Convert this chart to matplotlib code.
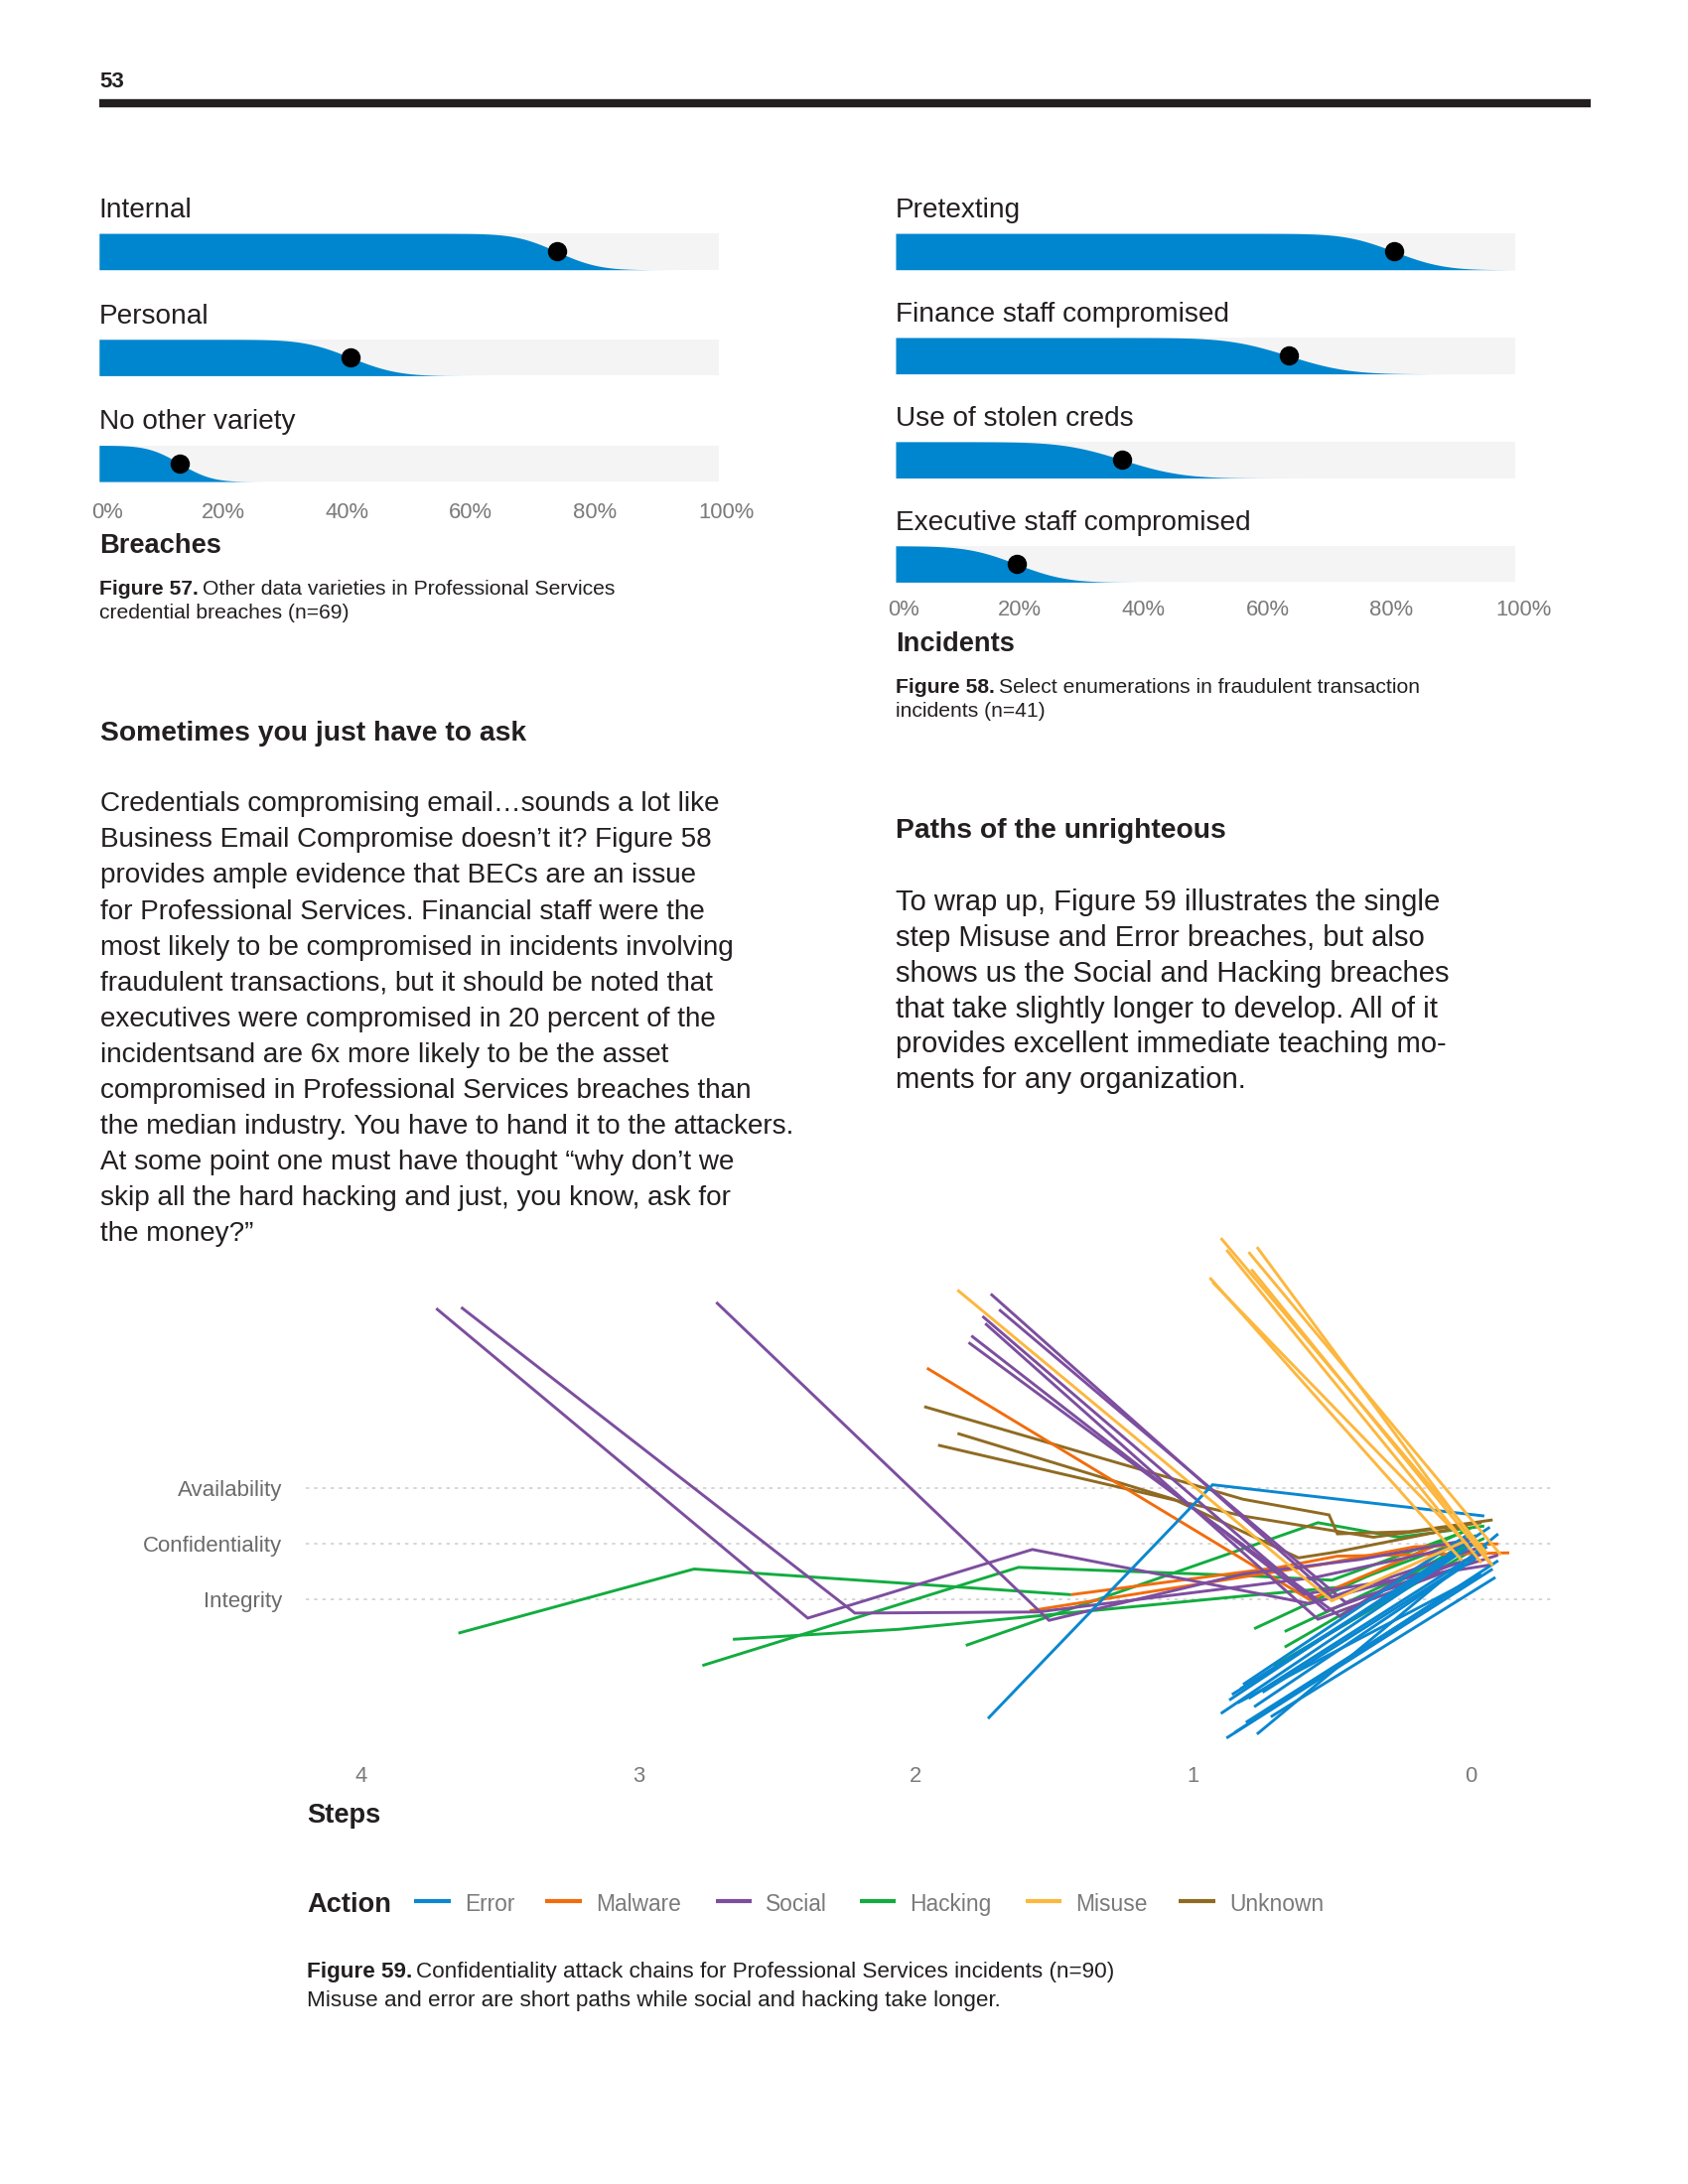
import math
import numpy as np
import matplotlib
matplotlib.use("Agg")
import matplotlib.pyplot as plt
from matplotlib.lines import Line2D
from matplotlib.transforms import blended_transform_factory, offset_copy

# ---- data ---------------------------------------------------------------
breach_labels = ["Internal", "Personal", "No other variety"]
breach_values = [0.739, 0.406, 0.130]
breach_n = 69

incident_labels = ["Pretexting", "Finance staff compromised",
                   "Use of stolen creds", "Executive staff compromised"]
incident_values = [0.805, 0.634, 0.366, 0.195]
incident_n = 41

pct_ticks = [0.0, 0.2, 0.4, 0.6, 0.8, 1.0]
pct_labels = ["0%", "20%", "40%", "60%", "80%", "100%"]

step_ticks = [4, 3, 2, 1, 0]
attr_labels = ["Availability", "Confidentiality", "Integrity"]
attr_rows = [3, 2, 1]

actions = ["Error", "Malware", "Social", "Hacking", "Misuse", "Unknown"]
action_colors = {"Error": "#0A87D0", "Malware": "#F26C0C", "Social": "#7D4E9F",
                 "Hacking": "#12AC3F", "Misuse": "#FDB73E", "Unknown": "#8F6B22"}

# paths as (step, row) points
error_paths = [
    [(1.74, -1.13), (0.93, 3.06), (-0.05, 2.50)],
    [(0.90, -1.04), (0.02, 1.90)],
    [(0.86, -0.70), (-0.03, 2.05)],
    [(0.82, -0.52), (0.00, 2.20)],
    [(0.80, -0.77), (-0.06, 1.95)],
    [(0.78, -0.92), (-0.02, 1.75)],
    [(0.88, -1.48), (-0.08, 1.55)],
    [(0.85, -1.38), (-0.10, 1.70)],
    [(0.77, -1.41), (-0.10, 2.18)],
    [(0.75, -0.66), (0.03, 1.60)],
    [(0.84, -0.85), (-0.04, 1.45)],
    [(0.83, -0.60), (0.05, 1.85)],
    [(0.87, -0.80), (-0.07, 2.30)],
    [(0.72, -1.10), (-0.09, 1.40)],
    [(0.81, -1.20), (0.00, 1.35)],
]
malware_paths = [
    [(1.96, 5.15), (0.58, 1.00), (0.42, 1.35), (0.12, 1.98), (-0.10, 2.00)],
    [(1.59, 0.80), (0.55, 1.62), (0.20, 1.95), (-0.08, 2.00)],
    [(1.44, 1.09), (0.69, 1.58), (0.48, 1.78), (-0.14, 1.84)],
]
social_paths = [
    [(3.73, 6.22), (2.39, 0.67), (1.58, 1.90), (0.58, 0.93), (0.00, 1.72)],
    [(3.64, 6.24), (2.22, 0.76), (1.56, 0.78), (0.56, 1.40), (-0.02, 2.02)],
    [(2.72, 6.33), (1.52, 0.63), (0.82, 1.46), (0.40, 1.72), (0.00, 2.08)],
    [(1.73, 6.48), (0.50, 1.05), (-0.04, 1.95)],
    [(1.76, 6.08), (0.52, 0.80), (-0.06, 1.85)],
    [(1.75, 5.95), (0.55, 0.65), (-0.02, 1.70)],
    [(1.80, 5.73), (0.60, 1.10), (-0.08, 1.63)],
    [(1.81, 5.61), (0.47, 0.70), (0.02, 2.12)],
    [(1.70, 6.20), (0.45, 0.95), (-0.10, 1.80)],
]
hacking_paths = [
    [(3.65, 0.40), (2.80, 1.55), (1.44, 1.09)],
    [(2.66, 0.29), (2.06, 0.47), (0.81, 1.07), (0.48, 1.22), (-0.02, 2.15)],
    [(2.77, -0.18), (1.63, 1.58), (0.81, 1.43), (0.50, 1.35), (0.02, 2.22)],
    [(1.82, 0.18), (0.55, 2.38), (0.26, 2.12), (-0.05, 2.32)],
    [(0.78, 0.48), (0.00, 2.28)],
    [(0.67, 0.43), (-0.05, 2.10)],
    [(0.67, 0.15), (0.02, 2.00)],
    [(0.71, -0.19), (-0.03, 1.95)],
]
misuse_paths = [
    [(1.85, 6.55), (0.50, 0.98), (0.02, 2.05)],
    [(0.90, 7.48), (-0.06, 1.83)],
    [(0.88, 7.27), (-0.04, 1.66)],
    [(0.80, 7.23), (-0.11, 1.80)],
    [(0.77, 7.32), (-0.08, 1.61)],
    [(0.79, 6.92), (-0.07, 1.65)],
    [(0.94, 6.77), (0.03, 1.70)],
    [(0.93, 6.69), (0.01, 1.98)],
]
unknown_paths = [
    [(1.97, 4.46), (0.82, 2.80), (0.51, 2.52), (0.48, 2.18), (0.22, 2.22), (-0.08, 2.43)],
    [(1.85, 3.98), (1.07, 2.80), (0.62, 1.75), (0.49, 1.85), (0.01, 2.32)],
    [(1.92, 3.77), (0.82, 2.50), (0.35, 2.12), (-0.04, 2.38)],
]

left_par = [
    "Credentials compromising email\u2026sounds a lot like",
    "Business Email Compromise doesn\u2019t it? Figure 58",
    "provides ample evidence that BECs are an issue",
    "for Professional Services. Financial staff were the",
    "most likely to be compromised in incidents involving",
    "fraudulent transactions, but it should be noted that",
    "executives were compromised in 20 percent of the",
    "incidentsand are 6x more likely to be the asset",
    "compromised in Professional Services breaches than",
    "the median industry. You have to hand it to the attackers.",
    "At some point one must have thought \u201cwhy don\u2019t we",
    "skip all the hard hacking and just, you know, ask for",
    "the money?\u201d",
]
right_par = [
    "To wrap up, Figure 59 illustrates the single",
    "step Misuse and Error breaches, but also",
    "shows us the Social and Hacking breaches",
    "that take slightly longer to develop. All of it",
    "provides excellent immediate teaching mo-",
    "ments for any organization.",
]

# ---- style ---------------------------------------------------------------
W, H = 1700, 2200
BLUE = "#0086CE"
BG = "#F4F4F4"
DARK = "#231F20"
GREY = "#7A7A7C"
plt.rcParams["font.family"] = ["Liberation Sans", "DejaVu Sans"]

fig = plt.figure(figsize=(W / 100, H / 100), dpi=100)
fig.patch.set_facecolor("white")


def fx(x):
    return x / W


def fy(y):
    # everything below the header sits 3 px higher
    return 1 - (y - 3) / H


def ftext(x, y, s, **kw):
    kw.setdefault("color", DARK)
    kw.setdefault("va", "center")
    return fig.text(fx(x), fy(y), s, **kw)


def caption(x, y, bold, rest, size):
    t = ftext(x, y, bold, fontsize=size, fontweight="bold")
    bb = t.get_window_extent(renderer=fig.canvas.get_renderer())
    ftext(bb.x1 + 4, y, rest, fontsize=size)


# header
ftext(100, 85, "53", fontsize=16, fontweight="bold")
fig.add_artist(Line2D([fx(100), fx(1602)], [fy(106.5), fy(106.5)], lw=6,
                      color=DARK, solid_capstyle="butt"))


def slab_panel(x0, x1, row0, pitch, labels, values, n, tick_y):
    rows = len(labels)
    top, bottom = -0.65, rows - 1 + 0.25
    ax = fig.add_axes([fx(x0), fy(row0 + bottom * pitch), (x1 - x0) / W,
                       (bottom - top) * pitch / H])
    ax.set_xlim(0, 1)
    ax.set_ylim(bottom, top)
    ax.axis("off")
    hh = 18.3 / pitch
    xs = np.linspace(0, 1, 500)
    for i, (lab, p) in enumerate(zip(labels, values)):
        ax.barh(i, 1, height=2 * hh, left=0, color=BG, lw=0)
        sd = math.sqrt(p * (1 - p) / n)
        surv = np.array([0.5 * (1 - math.erf((v - p) / (sd * math.sqrt(2)))) for v in xs])
        ax.fill_between(xs, i + hh - 2 * hh * surv, i + hh, color=BLUE, lw=0)
        ax.plot(p, i, "o", ms=13, color="black", zorder=5)
        ax.text(0, i - 41.6 / pitch, lab, fontsize=20.2, color=DARK, va="center", ha="left")
    tr = blended_transform_factory(ax.transData, fig.transFigure)
    for v, lab in zip(pct_ticks, pct_labels):
        t = tr
        if v in (0.0, 1.0):
            t = offset_copy(tr, fig=fig, x=8, y=0, units="dots")
        ax.text(v, fy(tick_y), lab, transform=t, ha="center", va="center",
                fontsize=15.8, color=GREY)
    return ax


slab_panel(99.8, 723.6, 256.4, 106.7, breach_labels, breach_values, breach_n, 519.6)
ftext(100, 553.4, "Breaches", fontsize=19.6, fontweight="bold")
caption(100, 596.9, "Figure 57.", "Other data varieties in Professional Services", 15.2)
ftext(100, 620.8, "credential breaches (n=69)", fontsize=15.2)

slab_panel(902, 1526, 256.4, 104.9, incident_labels, incident_values, incident_n, 618)
ftext(902, 651.7, "Incidents", fontsize=19.6, fontweight="bold")
caption(902, 695.3, "Figure 58.", "Select enumerations in fraudulent transaction", 15.2)
ftext(902, 719.1, "incidents (n=41)", fontsize=15.2)

# body text
ftext(101, 741.6, "Sometimes you just have to ask", fontsize=20.3, fontweight="bold")
for k, line in enumerate(left_par):
    ftext(101, 813.3 + k * 36.07, line, fontsize=20.1)
ftext(902, 840, "Paths of the unrighteous", fontsize=20.3, fontweight="bold")
for k, line in enumerate(right_par):
    ftext(902, 911.6 + k * 35.97, line, fontsize=21.1)

# ---- Figure 59 -------------------------------------------------------------
ax = fig.add_axes([fx(307.7), fy(1771.8), (1563.8 - 307.7) / W, (1771.8 - 1232.2) / H])
ax.set_xlim((1480.9 - 307.7) / 279.25, (1480.9 - 1563.8) / 279.25)
ax.set_ylim(-1.80, 7.80)
for s in ax.spines.values():
    s.set_visible(False)
for r in attr_rows:
    ax.axhline(r, color="#CFCFCF", lw=1.2, ls=(0, (2, 3)), zorder=0)
ax.set_yticks(attr_rows, attr_labels)
ax.tick_params(axis="y", length=0, pad=17, labelsize=16, labelcolor="#6B6B6B")
ax.set_xticks([])

path_groups = [("Hacking", hacking_paths, 2), ("Unknown", unknown_paths, 3),
               ("Malware", malware_paths, 3), ("Social", social_paths, 3),
               ("Error", error_paths, 4), ("Misuse", misuse_paths, 5)]
for name, paths, z in path_groups:
    for pth in paths:
        xs = [p[0] for p in pth]
        ys = [p[1] for p in pth]
        ax.plot(xs, ys, color=action_colors[name], lw=2.1, zorder=z,
                solid_joinstyle="miter", solid_capstyle="butt")

trx = blended_transform_factory(ax.transData, fig.transFigure)
for s in step_ticks:
    ax.text(s, fy(1792.6), str(s), transform=trx, ha="center", va="center",
            fontsize=15.8, color=GREY)
ftext(309, 1831.9, "Steps", fontsize=19.6, fontweight="bold")

# legend
ftext(309, 1921.8, "Action", fontsize=19.6, fontweight="bold")
leg_x = [417.3, 549.4, 720.8, 865.5, 1032.7, 1187.2]
for name, lx in zip(actions, leg_x):
    fig.add_artist(Line2D([fx(lx), fx(lx + 36.5)], [fy(1918), fy(1918)], lw=3,
                          color=action_colors[name], solid_capstyle="butt"))
    ftext(lx + 50.6, 1921.8, name, fontsize=16.4, color=GREY)

caption(309, 1989.3, "Figure 59.",
        "Confidentiality attack chains for Professional Services incidents (n=90)", 16.2)
ftext(309, 2018.8, "Misuse and error are short paths while social and hacking take longer.",
      fontsize=16.2)

fig.savefig("out.png", dpi=100, facecolor="white")
